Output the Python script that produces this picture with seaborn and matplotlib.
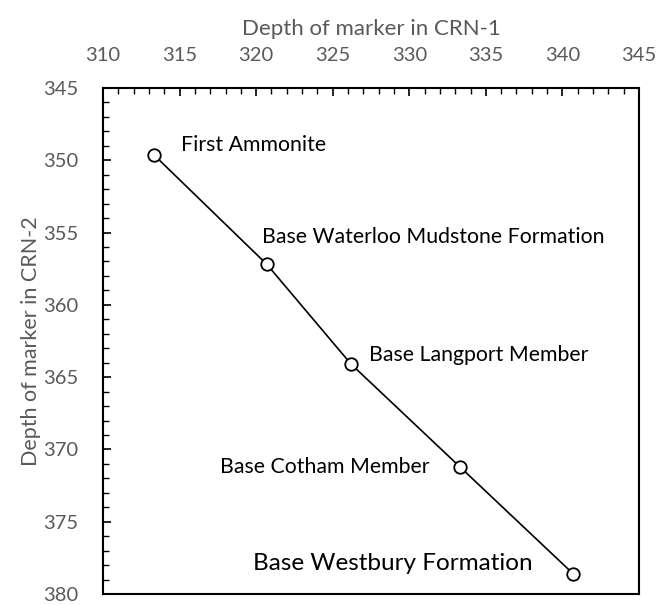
import matplotlib
matplotlib.use("Agg")
import matplotlib.pyplot as plt
import seaborn as sns
import pandas as pd
from matplotlib.ticker import MultipleLocator

sns.set_theme(style="white")
plt.rcParams['font.family'] = ['Lato', 'DejaVu Sans']

markers = ["First Ammonite", "Base Waterloo Mudstone Formation", "Base Langport Member",
           "Base Cotham Member", "Base Westbury Formation"]
depth_crn1 = [313.3, 320.7, 326.2, 333.3, 340.7]
depth_crn2 = [349.6, 357.2, 364.1, 371.2, 378.6]
label_x = [315.1, 320.4, 327.4, 331.35, 319.8]
label_y = [348.95, 355.3, 363.5, 371.2, 377.9]
label_ha = ["left", "left", "left", "right", "left"]
label_size = [15.3, 15.3, 15.3, 15.3, 17.5]

df = pd.DataFrame({"crn1": depth_crn1, "crn2": depth_crn2, "marker": markers})

fig = plt.figure(figsize=(6.61, 6.05), dpi=100)
ax = fig.add_axes([103/661, 1-594/605, 536/661, 506/605])

sns.lineplot(data=df, x="crn1", y="crn2", ax=ax, color="black", linewidth=1.2,
             marker="o", markersize=9, markerfacecolor="white",
             markeredgecolor="black", markeredgewidth=1.3, sort=False)

for t, x, y, ha, s in zip(markers, label_x, label_y, label_ha, label_size):
    ax.text(x, y, t, ha=ha, va="center", fontsize=s, color="black")

ax.set_xlim(310, 345)
ax.set_ylim(380, 345)
ax.xaxis.set_major_locator(MultipleLocator(5))
ax.xaxis.set_minor_locator(MultipleLocator(1))
ax.yaxis.set_major_locator(MultipleLocator(5))
ax.yaxis.set_minor_locator(MultipleLocator(1))
ax.xaxis.tick_top()
ax.xaxis.set_label_position("top")
ax.tick_params(axis="x", which="both", direction="in", top=True, bottom=False,
               labeltop=True, labelbottom=False, colors="black", labelcolor="#595959",
               labelsize=14.5, pad=17)
ax.tick_params(axis="y", which="both", direction="in", left=True, right=False,
               colors="black", labelcolor="#595959", labelsize=14.5, pad=18)
ax.tick_params(which="major", length=6, width=1.2)
ax.tick_params(which="minor", length=4, width=1.0)
for sp in ax.spines.values():
    sp.set_color("black")
    sp.set_linewidth(1.5)
ax.set_xlabel("Depth of marker in CRN-1", color="#595959", fontsize=16, labelpad=9)
ax.set_ylabel("Depth of marker in CRN-2", color="#595959", fontsize=15.5, labelpad=1)
ax.grid(False)

fig.savefig("out.png", dpi=100)
